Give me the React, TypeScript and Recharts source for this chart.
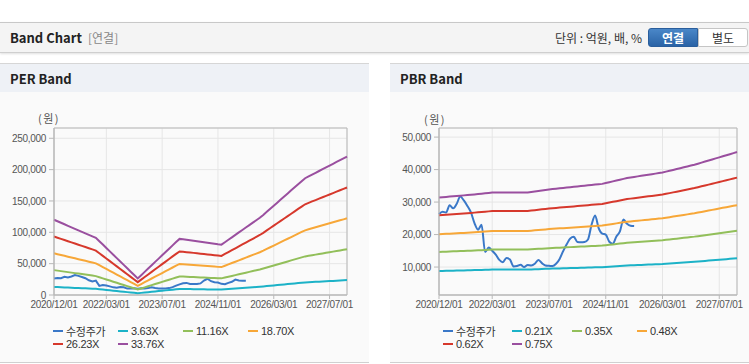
import React from 'react';
import { LineChart, Line, XAxis, YAxis, CartesianGrid, ReferenceArea } from 'recharts';

// monthly points, 2020/12 .. 2027/12 (index 0..84)
const MONTH_TICKS = [0, 15, 31, 47, 63, 79];
const TICK_LABELS = ['2020/12/01', '2022/03/01', '2023/07/01', '2024/11/01', '2026/03/01', '2027/07/01'];

// 수정주가 (won), 2020/12 .. 2025/07
const PRICE = [
  26300, 27000, 26800, 29000, 28100, 29500, 31700, 30500, 28800, 26800, 23500, 21500,
  23000, 14600, 16000, 15000, 13800, 12200, 11500, 12800, 12300, 10200, 10300, 10700,
  10000, 10600, 10500, 11000, 12200, 11200, 10500, 10400, 10300, 11000, 12500, 14900,
  17000, 18800, 19300, 17700, 17600, 17700, 18500, 23000, 25900, 22000, 20300, 20000,
  17800, 17200, 19400, 21000, 24600, 23300, 22700, 22600,
];

// EPS used for the PER band
const EPS = [
  3555, 3483, 3412, 3341, 3270, 3199, 3128, 3057, 2986, 2915, 2844, 2773,
  2701, 2541, 2382, 2222, 2062, 1902, 1742, 1582, 1422, 1262, 1102, 942,
  782, 936, 1093, 1250, 1407, 1564, 1718, 1875, 2032, 2189, 2346, 2500,
  2651, 2630, 2607, 2583, 2562, 2539, 2515, 2491, 2470, 2447, 2423, 2399,
  2379, 2494, 2610, 2725, 2841, 2956, 3072, 3187, 3303, 3418, 3534, 3649,
  3783, 3928, 4073, 4218, 4363, 4508, 4653, 4799, 4944, 5089, 5234, 5379,
  5518, 5604, 5690, 5773, 5859, 5945, 6031, 6114, 6200, 6286, 6371, 6454,
  6540,
];

// BPS used for the PBR band
const BPS = [
  41870, 42000, 42120, 42250, 42380, 42500, 42630, 42750, 42880, 43000, 43150, 43310,
  43460, 43620, 43770, 43930, 43930, 43940, 43940, 43950, 43950, 43960, 43960, 43970,
  43970, 43980, 44170, 44370, 44570, 44770, 44970, 45170, 45330, 45480, 45640, 45790,
  45940, 46100, 46250, 46400, 46560, 46710, 46860, 47020, 47170, 47320, 47470, 47810,
  48160, 48500, 48840, 49190, 49530, 49870, 50100, 50320, 50550, 50770, 51000, 51230,
  51450, 51680, 51900, 52130, 52490, 52840, 53200, 53550, 53910, 54270, 54620, 54980,
  55330, 55760, 56200, 56630, 57060, 57500, 57930, 58360, 58800, 59230, 59660, 60100,
  60530,
];

const PER_MULTS = [3.63, 11.16, 18.7, 26.23, 33.76];
const PER_NAMES = ['3.63X', '11.16X', '18.70X', '26.23X', '33.76X'];
const PBR_MULTS = [0.21, 0.35, 0.48, 0.62, 0.75];
const PBR_NAMES = ['0.21X', '0.35X', '0.48X', '0.62X', '0.75X'];

const PRICE_COLOR = '#3a78c8';
const BAND_COLORS = ['#1cb2c7', '#92bf5a', '#f7a738', '#d6382c', '#9a4f9f'];

const rows = EPS.map((eps, i) => {
  const row: Record<string, number | undefined> = { i, price: PRICE[i] };
  PER_MULTS.forEach((m, k) => (row[`per${k}`] = eps * m));
  PBR_MULTS.forEach((m, k) => (row[`pbr${k}`] = BPS[i] * m));
  return row;
});

const tickStyle = { fontSize: 10, fill: '#555', fontFamily: 'Liberation Sans, Arial, sans-serif', letterSpacing: -0.3 };
const AXIS = '#b8b8b8';

function BandChart({ prefix, yDomain, yTicks, width, yWidth, rightMargin, priceType }: any) {
  return (
    <LineChart width={width} height={223} data={rows} margin={{ top: 36, right: rightMargin, left: 0, bottom: 0 }}>
      <CartesianGrid stroke="#e6e6e6" />
      <ReferenceArea x1={0} x2={84} y1={yDomain[0]} y2={yDomain[1]} fill="none" stroke={AXIS} />
      <XAxis
        dataKey="i"
        type="number"
        domain={[0, 84]}
        ticks={MONTH_TICKS}
        interval={0}
        tickFormatter={(v) => TICK_LABELS[MONTH_TICKS.indexOf(v)]}
        tick={tickStyle}
        tickSize={4}
        tickMargin={2}
        axisLine={{ stroke: AXIS }}
        tickLine={{ stroke: AXIS }}
        height={20}
      />
      <YAxis
        type="number"
        domain={yDomain}
        ticks={yTicks}
        allowDataOverflow
        width={yWidth}
        interval={0}
        tickFormatter={(v) => v.toLocaleString('en-US')}
        tick={tickStyle}
        tickSize={5}
        tickMargin={3}
        axisLine={{ stroke: AXIS }}
        tickLine={{ stroke: AXIS }}
      />
      <Line type={priceType} dataKey="price" stroke={PRICE_COLOR} strokeWidth={2} dot={false} isAnimationActive={false} />
      {BAND_COLORS.map((c, k) => (
        <Line key={k} type="linear" dataKey={`${prefix}${k}`} stroke={c} strokeWidth={2} dot={false} isAnimationActive={false} />
      ))}
    </LineChart>
  );
}

function LegendBlock({ left, cols, names }: { left: number; cols: number[]; names: string[] }) {
  const items = [{ name: '수정주가', color: PRICE_COLOR }, ...names.map((n, k) => ({ name: n, color: BAND_COLORS[k] }))];
  return (
    <>
      {items.map((it, k) => (
        <div
          key={k}
          style={{
            position: 'absolute',
            left: left + cols[k % 4],
            top: k < 4 ? 323 : 336,
            height: 15,
            display: 'flex',
            alignItems: 'center',
            fontSize: 11,
            color: '#333',
            letterSpacing: -0.3,
            fontFamily: 'Liberation Sans, "Noto Sans CJK KR", sans-serif',
            whiteSpace: 'nowrap',
          }}
        >
          <span style={{ display: 'inline-block', width: 10, height: 2, background: it.color, marginRight: 3 }} />
          {it.name}
        </div>
      ))}
    </>
  );
}

const korean = '"Noto Sans CJK KR", "Noto Sans", sans-serif';

function Panel({ left, width, title }: { left: number; width: number; title: string }) {
  return (
    <div
      style={{
        position: 'absolute',
        left,
        top: 63,
        width,
        height: 298,
        background: '#fafafa',
        borderTop: '1px solid #d6d6d6',
        borderBottom: '1px solid #d0d0d0',
      }}
    >
      <div
        style={{
          height: 28,
          background: '#eef1f6',
          fontFamily: korean,
          fontWeight: 700,
          fontSize: 13,
          color: '#222',
          lineHeight: '30px',
          paddingLeft: 10,
        }}
      >
        {title}
      </div>
    </div>
  );
}

export default function App() {
  return (
    <div style={{ position: 'absolute', left: 0, top: 0, width: 749, height: 364, background: '#fff', overflow: 'hidden' }}>
      <div
        style={{
          position: 'absolute',
          left: 0,
          top: 22,
          width: 749,
          height: 29,
          background: '#f4f4f4',
          borderTop: '1px solid #c8c8c8',
          borderBottom: '1px solid #cfcfcf',
          boxShadow: '0 1px 2px rgba(0,0,0,0.12)',
        }}
      >
        <span style={{ position: 'absolute', left: 10, top: 5, fontFamily: korean, fontWeight: 700, fontSize: 13, color: '#222' }}>
          Band Chart
        </span>
        <span style={{ position: 'absolute', left: 88, top: 6, fontFamily: korean, fontSize: 12, color: '#888' }}>[연결]</span>
        <span style={{ position: 'absolute', right: 107, top: 6, fontFamily: korean, fontSize: 12, color: '#333' }}>
          단위 : 억원, 배, %
        </span>
        <div
          style={{
            position: 'absolute',
            left: 648,
            top: 5,
            width: 50,
            height: 19,
            boxSizing: 'border-box',
            background: 'linear-gradient(#4a87c8, #2a63a6)',
            border: '1px solid #2a5e9c',
            borderRadius: '3px 0 0 3px',
            color: '#fff',
            fontFamily: korean,
            fontWeight: 700,
            fontSize: 12,
            textAlign: 'center',
            lineHeight: '17px',
          }}
        >
          연결
        </div>
        <div
          style={{
            position: 'absolute',
            left: 698,
            top: 5,
            width: 50,
            height: 19,
            boxSizing: 'border-box',
            background: '#fff',
            border: '1px solid #c5c5c5',
            borderRadius: '0 3px 3px 0',
            color: '#333',
            fontFamily: korean,
            fontSize: 12,
            textAlign: 'center',
            lineHeight: '17px',
          }}
        >
          별도
        </div>
      </div>

      <Panel left={0} width={369} title="PER Band" />
      <Panel left={390} width={359} title="PBR Band" />

      <span style={{ position: 'absolute', left: 38, top: 110, fontFamily: korean, fontSize: 11, color: '#555', letterSpacing: 1.5 }}>(원)</span>
      <span style={{ position: 'absolute', left: 424, top: 111, fontFamily: korean, fontSize: 11, color: '#555', letterSpacing: 1.5 }}>(원)</span>

      <div style={{ position: 'absolute', left: 0, top: 92 }}>
        <BandChart
          prefix="per"
          yDomain={[0, 266400]}
          yTicks={[0, 50000, 100000, 150000, 200000, 250000]}
          width={369}
          yWidth={54}
          rightMargin={22}
          priceType="linear"
        />
      </div>
      <div style={{ position: 'absolute', left: 390, top: 92 }}>
        <BandChart
          prefix="pbr"
          yDomain={[1400, 52800]}
          yTicks={[10000, 20000, 30000, 40000, 50000]}
          width={359}
          yWidth={49}
          rightMargin={12}
          priceType="monotone"
        />
      </div>

      <LegendBlock left={0} cols={[53, 118, 183, 248]} names={PER_NAMES} />
      <LegendBlock left={0} cols={[443, 512, 572, 637]} names={PBR_NAMES} />
    </div>
  );
}
